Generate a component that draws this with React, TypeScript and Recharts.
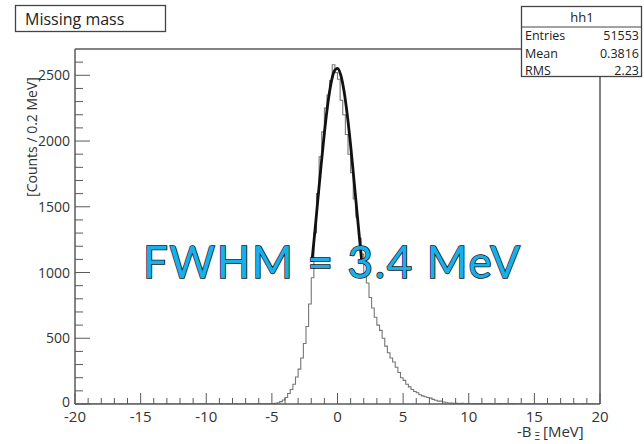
import React from 'react';
import { ComposedChart, Line, XAxis, YAxis, ReferenceLine } from 'recharts';

const X_MIN = -20;
const X_MAX = 20;
const BIN_WIDTH = 0.2;
const Y_MAX = 2700;

// Counts per 0.2 MeV bin, bins from -20 to 20 (200 bins)
const countsFarLeft: number[] = [
  0, 0, 0, 0, 0, 0, 0, 0, 0, 0, 0, 0, 0, 0, 0, 0, 0, 0, 0, 0, 0, 0, 0, 0, 0,
  0, 0, 0, 0, 0, 0, 0, 0, 0, 0, 1, 0, 0, 0, 0, 0, 1, 0, 0, 0, 0, 0, 0, 1, 0,
  0, 0, 1, 0, 0, 1, 0, 0, 1, 0, 0, 1, 0, 1, 0, 1, 1, 0, 1, 1, 1, 2, 1, 2, 2,
];
const countsPeakLeft: number[] = [
  3, 5, 10, 18, 30, 50, 80, 110, 150, 205, 265, 350, 460, 590, 760, 960, 1300,
  1600, 1880, 2070, 2250, 2350, 2460, 2580, 2520,
];
const countsPeakRight: number[] = [
  2470, 2310, 2200, 2050, 1900, 1760, 1560, 1420, 1260, 1140,
  1000, 920, 810, 730, 660, 600, 560, 500, 440, 390,
  350, 320, 280, 240, 200, 180, 150, 130, 110, 95,
  85, 70, 62, 55, 50, 45, 35, 28, 22, 22,
  15, 10, 8, 7, 6, 5, 4, 5, 3, 4,
];
const countsFarRight: number[] = [
  3, 4, 2, 3, 3, 2, 4, 2, 3, 2, 2, 3, 2, 1, 2, 2, 3, 1, 2, 1,
  2, 1, 1, 2, 1, 1, 0, 1, 1, 2, 1, 0, 1, 1, 0, 1, 1, 0, 1, 0,
  1, 0, 0, 1, 0, 0, 1, 0, 0, 0,
];

// Gaussian fit curve
const fitX: number[] = [-1.95, -1.75, -1.5, -1.25, -1.0, -0.75, -0.5, -0.25, 0, 0.25, 0.5, 0.75, 1.0, 1.25, 1.5, 1.75, 1.85];
const fitY: number[] = [1083, 1285, 1550, 1815, 2061, 2274, 2435, 2531, 2553, 2501, 2378, 2194, 1966, 1709, 1443, 1183, 1083];

const xMajorTicks: number[] = [-20, -15, -10, -5, 0, 5, 10, 15, 20];
const yMajorTicks: number[] = [0, 500, 1000, 1500, 2000, 2500];

const statsLabels: string[] = ['Entries', 'Mean', 'RMS'];
const statsValues: string[] = ['51553', '0.3816', '2.23'];

const counts = [...countsFarLeft, ...countsPeakLeft, ...countsPeakRight, ...countsFarRight];
const histData = counts
  .map((c, i) => ({ x: Math.round((X_MIN + i * BIN_WIDTH) * 10) / 10, h: c }))
  .concat([{ x: X_MAX, h: 0 }]);
const fitData = fitX.map((x, i) => ({ x, f: fitY[i] }));

const xTicks: number[] = [];
for (let v = X_MIN; v <= X_MAX; v += 1) xTicks.push(v);
const yTicks: number[] = [];
for (let v = 0; v <= 2600; v += 100) yTicks.push(v);

const FONT = '"Open Sans", "DejaVu Sans", sans-serif';
const AXIS_COLOR = '#5a5a5a';
const TEXT_COLOR = '#333';

const XTick = (props: any) => {
  const { x, y, payload } = props;
  const v = payload.value;
  const major = xMajorTicks.includes(v);
  return (
    <g>
      <line x1={x} x2={x} y1={y} y2={y - (major ? 11 : 6)} stroke={AXIS_COLOR} strokeWidth={1} />
      {major && (
        <text x={x} y={y + 18} textAnchor="middle" fontSize={15} fontFamily={FONT} fill={TEXT_COLOR}>
          {v}
        </text>
      )}
    </g>
  );
};

const YTick = (props: any) => {
  const { x, y, payload } = props;
  const v = payload.value;
  const major = yMajorTicks.includes(v);
  return (
    <g>
      <line x1={x} x2={x + (major ? 15 : 8)} y1={y} y2={y} stroke={AXIS_COLOR} strokeWidth={1} />
      {major && (
        <text x={x - 5} y={y + (v === 0 ? 3 : 5)} textAnchor="end" fontSize={14} fontFamily={FONT} fill={TEXT_COLOR}>
          {v}
        </text>
      )}
    </g>
  );
};

export default function App() {
  return (
    <div style={{ position: 'absolute', left: 0, top: 0, width: 644, height: 444, background: '#fff' }}>
      <ComposedChart
        width={644}
        height={444}
        margin={{ top: 49, right: 44, left: 0, bottom: 0 }}
      >
        <XAxis
          dataKey="x"
          type="number"
          domain={[X_MIN, X_MAX]}
          ticks={xTicks}
          interval={0}
          height={40}
          tickSize={0}
          tickMargin={0}
          tickLine={false}
          tick={<XTick />}
          axisLine={{ stroke: AXIS_COLOR, strokeWidth: 1.5 }}
          allowDataOverflow
        />
        <YAxis
          type="number"
          domain={[0, Y_MAX]}
          ticks={yTicks}
          interval={0}
          width={75}
          tickSize={0}
          tickMargin={0}
          tickLine={false}
          tick={<YTick />}
          axisLine={{ stroke: AXIS_COLOR, strokeWidth: 1.5 }}
          allowDataOverflow
        />
        <ReferenceLine y={Y_MAX} stroke={AXIS_COLOR} strokeWidth={1.5} />
        <ReferenceLine x={X_MAX} stroke={AXIS_COLOR} strokeWidth={1.5} />
        <Line
          data={histData}
          dataKey="h"
          type="stepAfter"
          stroke="#767676"
          strokeWidth={1.1}
          dot={false}
          isAnimationActive={false}
        />
        <Line
          data={fitData}
          dataKey="f"
          type="monotone"
          stroke="#111"
          strokeWidth={2.8}
          dot={false}
          isAnimationActive={false}
        />
      </ComposedChart>
      <svg
        width={644}
        height={444}
        style={{ position: 'absolute', left: 0, top: 0, pointerEvents: 'none' }}
      >
        {/* title box */}
        <rect x={15.5} y={5.5} width={150} height={26} fill="#fff" stroke="#444" strokeWidth={1.3} />
        <text x={25} y={25} fontSize={16} fontFamily={FONT} fill="#222">Missing mass</text>

        {/* stats box */}
        <rect x={521.5} y={6.5} width={120} height={70} fill="#fff" stroke="#444" strokeWidth={1.3} />
        <line x1={521.5} x2={641.5} y1={27} y2={27} stroke="#444" strokeWidth={1} />
        <text x={582} y={22} textAnchor="middle" fontSize={13} fontFamily={FONT} fill="#222">hh1</text>
        {statsLabels.map((l, i) => (
          <g key={l}>
            <text x={525} y={40 + i * 17.5} fontSize={12.5} fontFamily={FONT} fill="#222">{l}</text>
            <text x={639} y={40 + i * 17.5} textAnchor="end" fontSize={12.5} fontFamily={FONT} fill="#222">
              {statsValues[i]}
            </text>
          </g>
        ))}

        {/* axis titles */}
        <text
          x={37}
          y={137}
          transform="rotate(-90 37 137)"
          textAnchor="middle"
          fontSize={14}
          fontFamily={FONT}
          fill={TEXT_COLOR}
        >
          [Counts / 0.2 MeV]
        </text>
        <text x={517} y={437} fontSize={15} fontFamily={FONT} fill={TEXT_COLOR}>
          -B
          <tspan dx={3} dy={3} fontSize={10}>Ξ</tspan>
          <tspan dx={3} dy={-3}>[MeV]</tspan>
        </text>

        {/* annotation */}
        <text
          x={143}
          y={278}
          fontSize={44}
          fontFamily='Lato, "Noto Sans", sans-serif'
          fill="#18b0ea"
          stroke="#111"
          strokeWidth={1.5}
          paintOrder="stroke"
          textLength={377}
          lengthAdjust="spacing"
        >
          FWHM = 3.4 MeV
        </text>
      </svg>
    </div>
  );
}
